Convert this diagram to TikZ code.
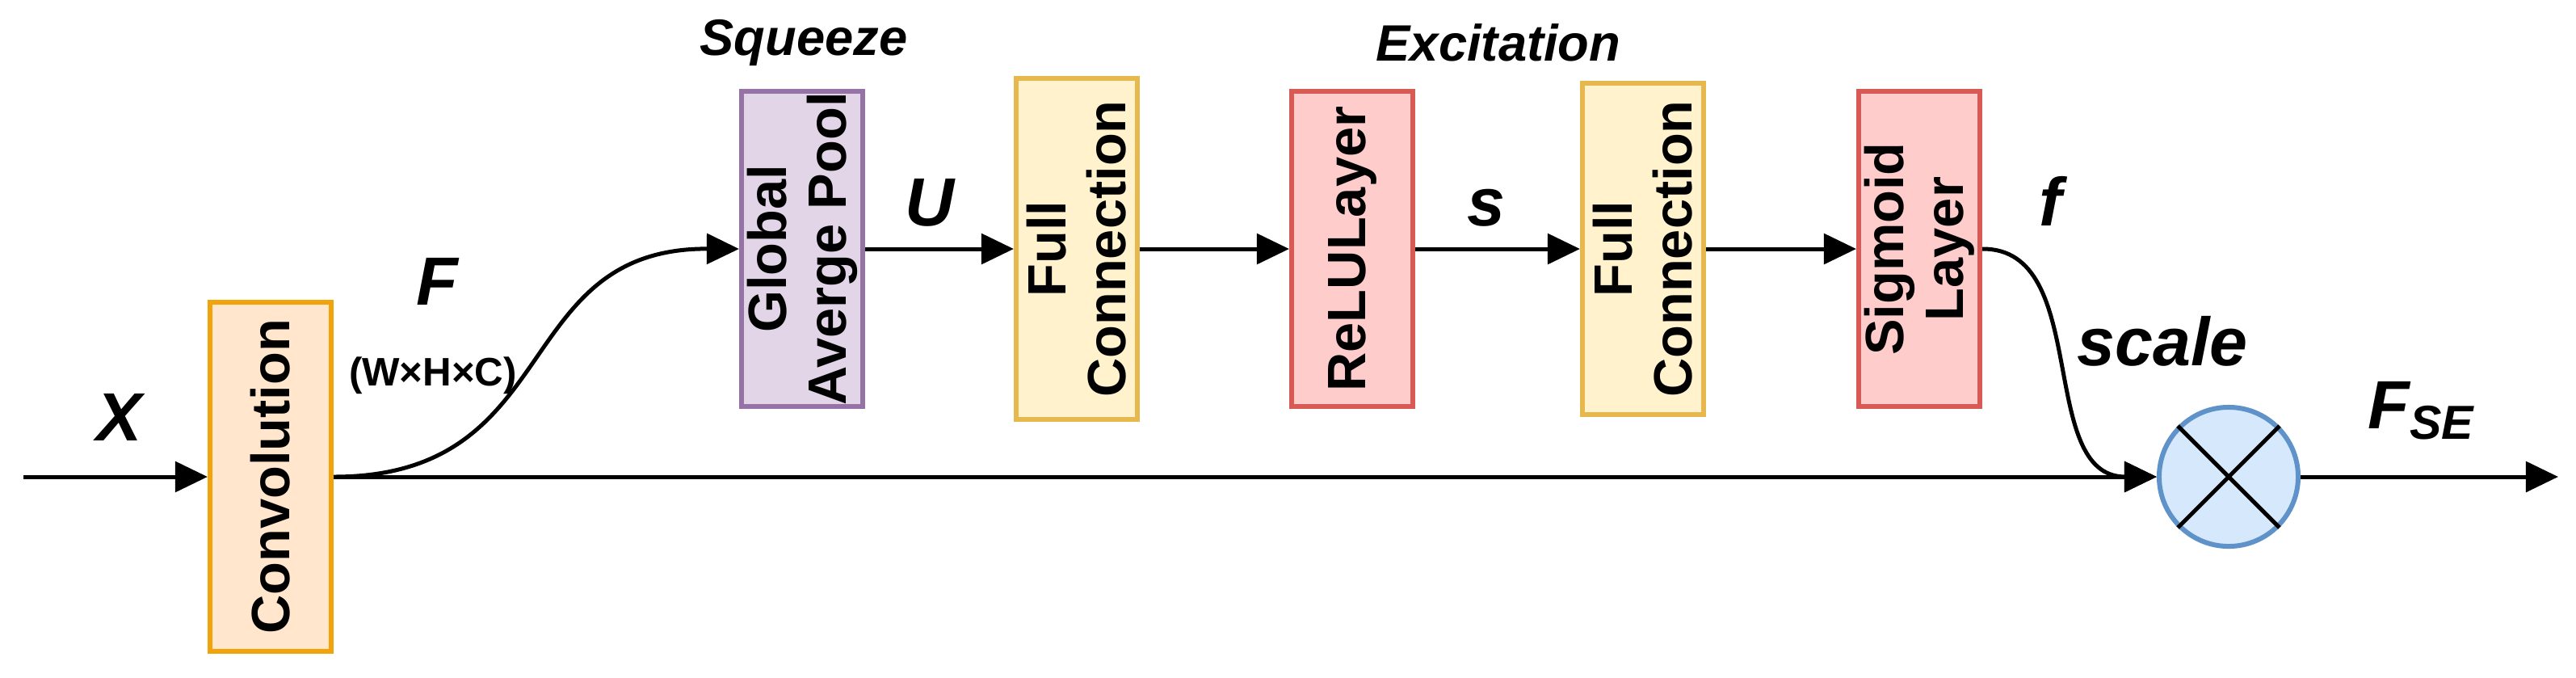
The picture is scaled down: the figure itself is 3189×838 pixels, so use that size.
\documentclass[tikz,border=0pt]{standalone}
\usepackage{fontspec}
\setmainfont{Liberation Sans}
\usetikzlibrary{arrows.meta}
\definecolor{oF}{HTML}{FFE6CC}\definecolor{oD}{HTML}{F0A30A}
\definecolor{pF}{HTML}{E1D5E7}\definecolor{pD}{HTML}{9673A6}
\definecolor{yF}{HTML}{FFF2CC}\definecolor{yD}{HTML}{E6B84E}
\definecolor{rF}{HTML}{FFCCCC}\definecolor{rD}{HTML}{D85A55}
\definecolor{bF}{HTML}{D6E8FC}\definecolor{bD}{HTML}{5E92C8}
\begin{document}
\begin{tikzpicture}[x=0.01cm,y=-0.01cm,
  box/.style={draw,line width=0.6mm,minimum width=1.5cm,inner sep=0pt},
  txt/.style={rotate=90,font=\fontsize{19}{21}\selectfont\bfseries,align=center},
  lab/.style={font=\fontsize{24}{26}\selectfont\bfseries\itshape},
  hd/.style={font=\fontsize{18}{20}\selectfont\bfseries\itshape},
  arr/.style={line width=0.5mm,-{Triangle[length=4mm,width=4mm,angle'=50]}}]
\useasboundingbox (0,0) rectangle (3189,838);
\node[box,fill=oF,draw=oD,minimum height=4.31cm] (conv) at (335,590) {};
\node[txt] at (conv) {Convolution};
\node[box,fill=pF,draw=pD,minimum height=3.89cm] (gap) at (993,308) {};
\node[txt] at (gap) {Global\\Averge Pool};
\node[box,fill=yF,draw=yD,minimum height=4.21cm] (fc1) at (1333,308) {};
\node[txt] at (fc1) {Full\\Connection};
\node[box,fill=rF,draw=rD,minimum height=3.89cm] (relu) at (1674,308) {};
\node[txt] at (relu) {ReLULayer};
\node[box,fill=yF,draw=yD,minimum height=4.09cm] (fc2) at (2034,308) {};
\node[txt] at (fc2) {Full\\Connection};
\node[box,fill=rF,draw=rD,minimum height=3.89cm] (sig) at (2376,308) {};
\node[txt] at (sig) {Sigmoid\\Layer};
\node[circle,draw=bD,fill=bF,line width=0.6mm,minimum size=1.72cm,inner sep=0pt] (mul) at (2759,590) {};
\draw[line width=0.5mm] (mul.north west)--(mul.south east) (mul.north east)--(mul.south west);
\coordinate (in) at (29,590);
\coordinate (out) at (3167,590);
\draw[arr] (in) -- (conv.west);
\draw[arr] (conv.east) -- (mul.west);
\draw[arr] (conv.east) .. controls (700,590) and (630,307) .. (gap.west);
\draw[arr] (gap) -- (fc1);
\draw[arr] (fc1) -- (relu);
\draw[arr] (relu) -- (fc2);
\draw[arr] (fc2) -- (sig);
\draw[arr] (sig.east) .. controls (2590,307) and (2520,590) .. (mul.west);
\draw[arr] (mul.east) -- (out);
\node[lab] (lx) at (148,516) {X};
\node[lab] (lf) at (541,348) {F};
\node[font=\fontsize{14}{16}\selectfont\bfseries] (dim) at (536,465) {(W×H×C)};
\node[lab] (lu) at (1151,251) {U};
\node[lab] (ls) at (1840,257) {s};
\node[lab] (lff) at (2539,249) {f};
\node[lab] (lsc) at (2677,422) {scale};
\node[lab] (lse) at (2998,508) {F\textsubscript{SE}};
\node[hd] (sq) at (995,53) {Squeeze};
\node[hd] (ex) at (1855,53) {Excitation};
\end{tikzpicture}
\end{document}
